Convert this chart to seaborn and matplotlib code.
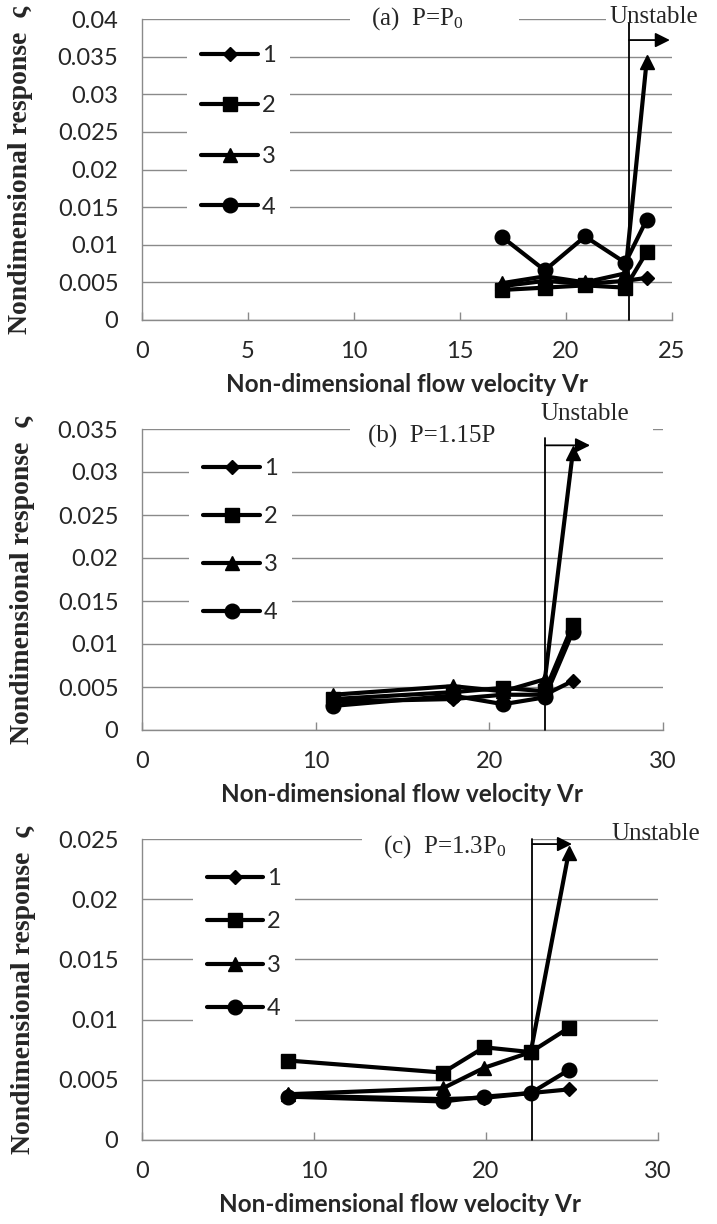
import numpy as np
import pandas as pd
import matplotlib
matplotlib.use("Agg")
import matplotlib.pyplot as plt
import seaborn as sns
from matplotlib.patches import Rectangle

# ---------------- data ----------------
series_names = ["1", "2", "3", "4"]

vr_a = [17.0, 19.0, 20.9, 22.8, 23.8]
a1 = [0.0045, 0.0052, 0.0048, 0.0052, 0.0056]
a2 = [0.0040, 0.0043, 0.0046, 0.0043, 0.0090]
a3 = [0.0049, 0.0058, 0.0050, 0.0062, 0.0343]
a4 = [0.0110, 0.0066, 0.0111, 0.0076, 0.0133]

vr_b = [11.0, 17.9, 20.8, 23.2, 24.8]
b1 = [0.0033, 0.0036, 0.0041, 0.0041, 0.0057]
b2 = [0.0036, 0.0044, 0.0049, 0.0045, 0.0122]
b3 = [0.0041, 0.0051, 0.0045, 0.0059, 0.0322]
b4 = [0.0028, 0.0040, 0.0030, 0.0038, 0.0114]

vr_c = [8.5, 17.5, 19.9, 22.6, 24.8]
c1 = [0.0037, 0.0034, 0.0035, 0.0039, 0.0042]
c2 = [0.0066, 0.0056, 0.0077, 0.0073, 0.0093]
c3 = [0.0038, 0.0043, 0.0060, 0.0073, 0.0238]
c4 = [0.0036, 0.0032, 0.0036, 0.0039, 0.0058]

xticks_a = [0, 5, 10, 15, 20, 25]
xticks_bc = [0, 10, 20, 30]
ylabels_a = ["0", "0.005", "0.01", "0.015", "0.02", "0.025", "0.03", "0.035", "0.04"]
ylabels_b = ["0", "0.005", "0.01", "0.015", "0.02", "0.025", "0.03", "0.035"]
ylabels_c = ["0", "0.005", "0.01", "0.015", "0.02", "0.025"]

titles = ["(a)  P=P$_0$", "(b)  P=1.15P", "(c)  P=1.3P$_0$"]
unstable_vr = [22.97, 23.2, 22.7]

# ---------------- style ----------------
sns.set_theme(style="white")
plt.rcParams["font.family"] = ["Lato", "DejaVu Sans"]
plt.rcParams["mathtext.fontset"] = "custom"
plt.rcParams["mathtext.rm"] = "Liberation Serif"
plt.rcParams["mathtext.it"] = "Liberation Serif:italic"

GRID = "#8a8a8a"
markers = ["D", "s", "^", "o"]
msizes = [7.5, 10.5, 10, 10.5]

fig = plt.figure(figsize=(7.17, 12.24), dpi=100)
W, H = 717.0, 1224.0

panels = [
    dict(vr=vr_a, ys=[a1, a2, a3, a4], xticks=xticks_a, ylabels=ylabels_a,
         box=(142, 672, 19, 320), leg=(0.063, 1.0), lsp=1.25,
         title_xy=(13.0, 0.0401), unst_xy=(24.15, 0.0403),
         vtop=0.0395, arrow_y=0.0372, arrow_x=24.9,
         rect=(9.8, 17.8), rect2=(21.9, 26.4)),
    dict(vr=vr_b, ys=[b1, b2, b3, b4], xticks=xticks_bc, ylabels=ylabels_b,
         box=(142, 663, 429, 730), leg=(0.068, 0.99), lsp=1.15,
         title_xy=(16.7, 0.0341), unst_xy=(25.5, 0.0367),
         vtop=0.0340, arrow_y=0.0331, arrow_x=25.8,
         rect=(12.0, 29.4), rect2=None),
    dict(vr=vr_c, ys=[c1, c2, c3, c4], xticks=xticks_bc, ylabels=ylabels_c,
         box=(142, 658, 839, 1140), leg=(0.075, 0.99), lsp=0.95,
         title_xy=(17.6, 0.02433), unst_xy=(29.9, 0.0254),
         vtop=0.0250, arrow_y=0.02458, arrow_x=25.0,
         rect=(12.8, 22.7), rect2=None),
]

for i, p in enumerate(panels):
    x0, x1, ytop, ybot = p["box"]
    ax = fig.add_axes([x0 / W, 1 - ybot / H, (x1 - x0) / W, (ybot - ytop) / H])
    xmax = p["xticks"][-1]
    ymax = 0.005 * (len(p["ylabels"]) - 1)

    # white boxes behind annotation text (hide gridline under text)
    dy = ymax * 0.03
    ax.add_patch(Rectangle((p["rect"][0], ymax - dy), p["rect"][1] - p["rect"][0], 2 * dy,
                           facecolor="white", edgecolor="none", zorder=1, clip_on=False))
    if p["rect2"] is not None:
        ax.add_patch(Rectangle((p["rect2"][0], ymax - dy), p["rect2"][1] - p["rect2"][0], 2 * dy,
                               facecolor="white", edgecolor="none", zorder=1, clip_on=False))

    for name, ys, mk, ms in zip(series_names, p["ys"], markers, msizes):
        df = pd.DataFrame({"Vr": p["vr"], "resp": ys})
        sns.lineplot(data=df, x="Vr", y="resp", ax=ax, color="black", linewidth=3.0,
                     marker=mk, markersize=ms, markeredgecolor="black",
                     markeredgewidth=1, estimator=None, label=name, zorder=3)

    ax.set_xlim(0, xmax)
    ax.set_ylim(0, ymax)
    ax.set_xticks(p["xticks"])
    ax.set_yticks(np.arange(len(p["ylabels"])) * 0.005)
    ax.set_yticklabels(p["ylabels"])
    ax.yaxis.grid(True, color=GRID, lw=1.0)
    ax.xaxis.grid(False)
    for s in ["top", "right"]:
        ax.spines[s].set_visible(False)
    for s in ["left", "bottom"]:
        ax.spines[s].set_color(GRID)
        ax.spines[s].set_linewidth(1.0)
    ax.tick_params(axis="x", direction="in", length=6, width=1, color=GRID,
                   labelsize=17, pad=15, bottom=True)
    ax.tick_params(axis="y", length=0, labelsize=17, pad=17)

    ax.set_xlabel("Non-dimensional flow velocity Vr", fontsize=17.5,
                  fontweight="bold", labelpad=8)
    ax.set_ylabel("Nondimensional response  ς", fontsize=20, fontweight="bold",
                  family=["Liberation Serif", "DejaVu Serif"])
    ax.yaxis.set_label_coords(-0.205, 0.5)

    leg = ax.legend(loc="upper left", bbox_to_anchor=p["leg"], frameon=True,
                    facecolor="white", edgecolor="none", framealpha=1,
                    fontsize=17, labelspacing=p["lsp"], handlelength=2.4,
                    handletextpad=0.15, borderpad=0.6)
    leg.set_zorder(2)
    for line in leg.get_lines():
        line.set_linewidth(3.0)

    # unstable boundary, arrow and labels
    vx = unstable_vr[i]
    ax.plot([vx, vx], [0, p["vtop"]], color="black", lw=1.3, zorder=4, clip_on=False)
    ax.annotate("", xy=(p["arrow_x"], p["arrow_y"]), xytext=(vx, p["arrow_y"]),
                arrowprops=dict(arrowstyle="-|>", color="black", lw=1.3,
                                mutation_scale=22, shrinkA=0, shrinkB=0),
                annotation_clip=False, zorder=4)
    ax.text(p["title_xy"][0], p["title_xy"][1], titles[i], fontsize=18,
            family="Liberation Serif", ha="center", va="center", zorder=5)
    ax.text(p["unst_xy"][0], p["unst_xy"][1], "Unstable", fontsize=18,
            family="Liberation Serif", ha="center", va="center", zorder=5,
            clip_on=False)

fig.savefig("out.png", dpi=100, facecolor="white")
